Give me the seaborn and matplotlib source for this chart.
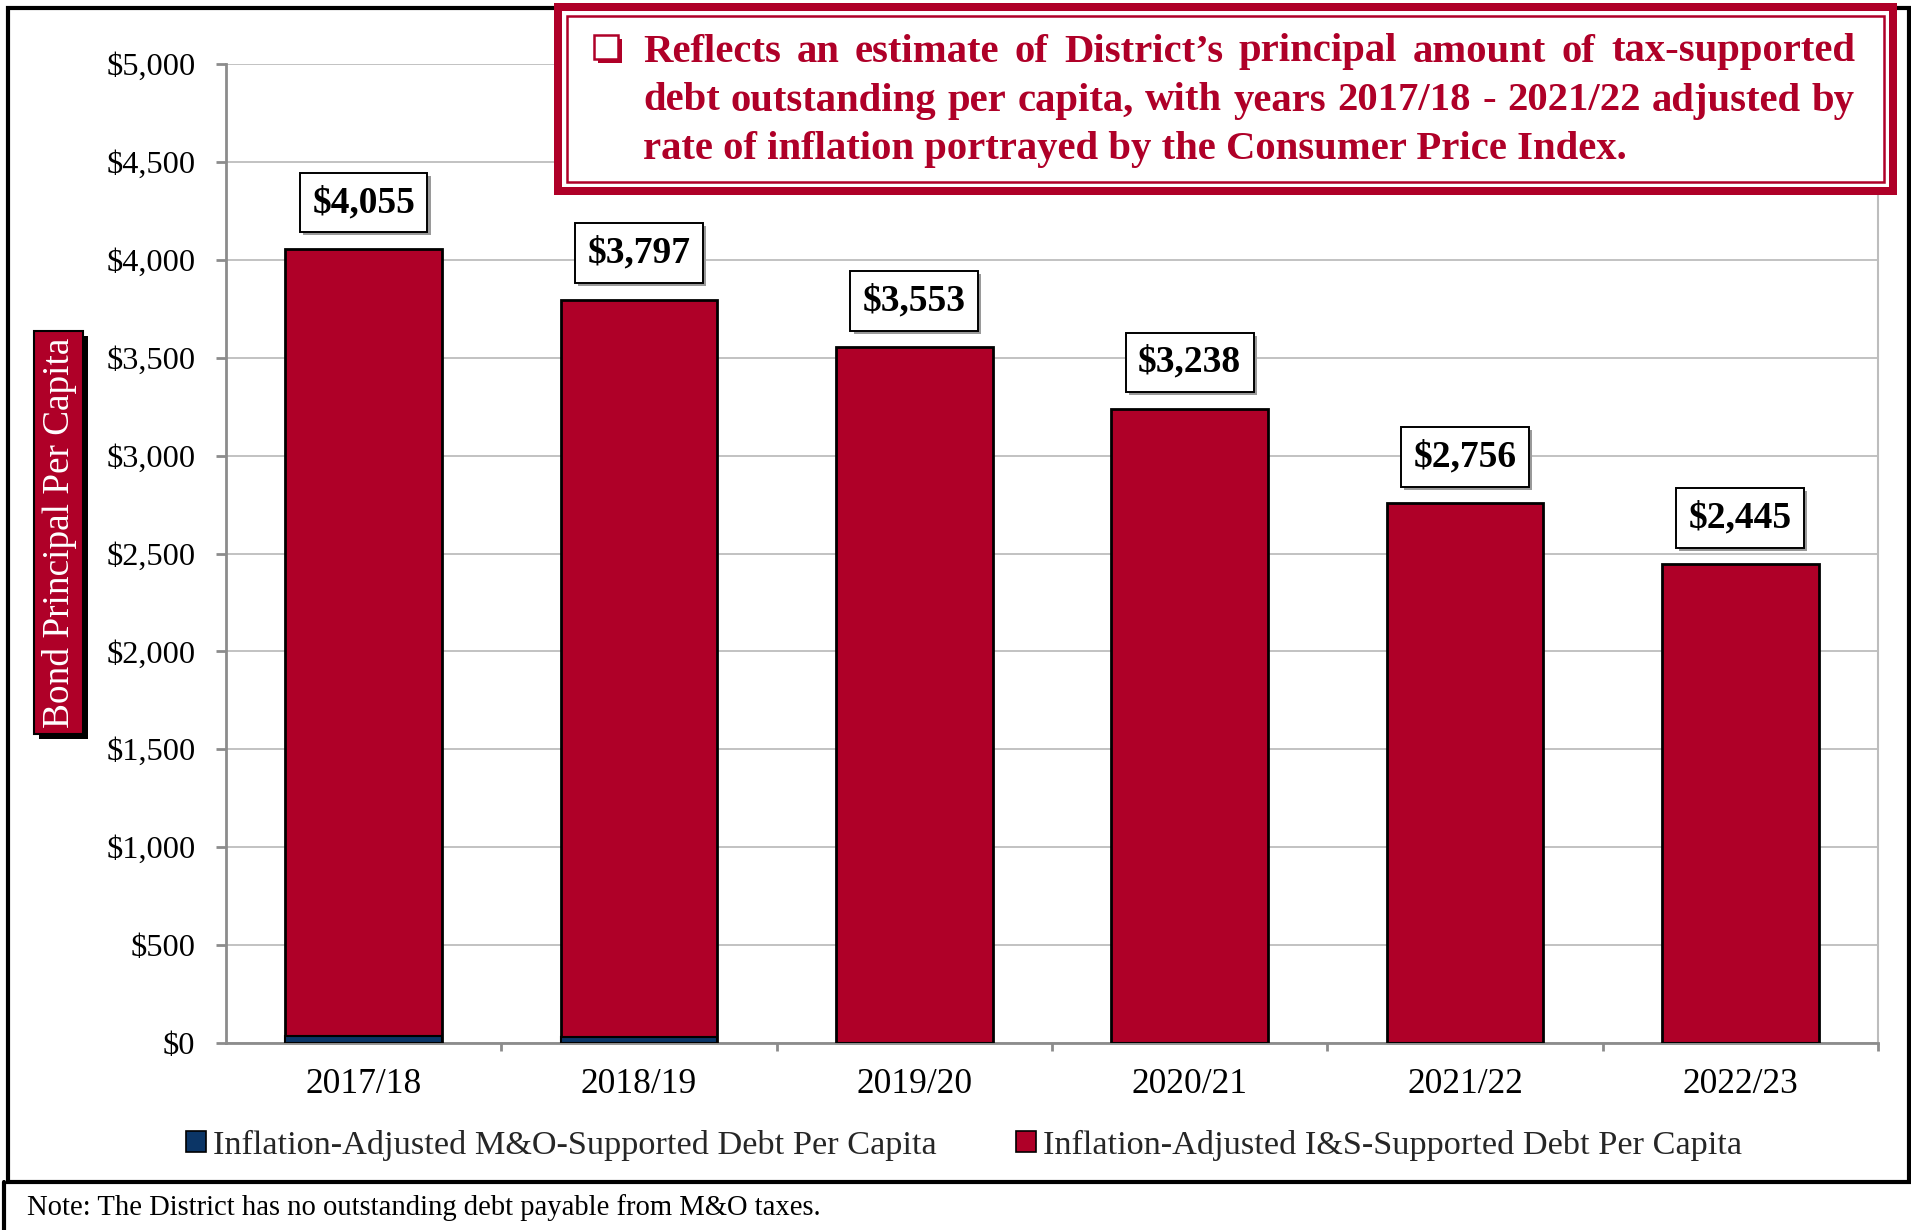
import matplotlib
matplotlib.use('Agg')
import matplotlib.pyplot as plt
import seaborn as sns
import pandas as pd
from matplotlib.patches import Rectangle, Patch
from matplotlib.lines import Line2D
from matplotlib.ticker import FuncFormatter

# ---------------- data ----------------
years = ['2017/18', '2018/19', '2019/20', '2020/21', '2021/22', '2022/23']
mo_debt = [35, 30, 0, 0, 0, 0]
is_debt = [4020, 3767, 3553, 3238, 2756, 2445]
y_ticks = [0, 500, 1000, 1500, 2000, 2500, 3000, 3500, 4000, 4500, 5000]

title_lines = [
    "Reflects an estimate of District\u2019s principal amount of tax-supported",
    "debt outstanding per capita, with years 2017/18 - 2021/22 adjusted by",
    "rate of inflation portrayed by the Consumer Price Index.",
]
legend_labels = ["Inflation-Adjusted M&O-Supported Debt Per Capita",
                 "Inflation-Adjusted I&S-Supported Debt Per Capita"]
y_label = "Bond Principal Per Capita"
note_text = "Note: The District has no outstanding debt payable from M&O taxes."

CRIMSON = '#AF0028'
NAVY = '#0B3566'
GRID = '#BDBDBD'
AXIS = '#8C8C8C'

sns.set_theme(style='white')
plt.rcParams['font.family'] = ['Liberation Serif', 'DejaVu Serif']

W, H = 1911, 1230
fig = plt.figure(figsize=(W / 100, H / 100), dpi=100)
fig.patch.set_facecolor('white')


def fx(px):
    return px / W


def fy(py):
    return 1 - py / H


# ---------------- axes ----------------
ax_l, ax_r, ax_t, ax_b = 226, 1878, 64, 1043
ax = fig.add_axes([fx(ax_l), fy(ax_b), (ax_r - ax_l) / W, (ax_b - ax_t) / H])

df = pd.DataFrame({'year': years, 'mo': mo_debt, 'is': is_debt})
df['total'] = df['mo'] + df['is']

sns.barplot(data=df, x='year', y='total', color=CRIMSON, width=0.57,
            edgecolor='black', linewidth=2, saturation=1, ax=ax, zorder=3)
sns.barplot(data=df, x='year', y='mo', color=NAVY, width=0.57,
            edgecolor='black', linewidth=1.5, saturation=1, ax=ax, zorder=4)

ax.set_xlim(-0.5, len(years) - 0.5)
ax.set_ylim(0, 5000)
ax.set_yticks(y_ticks)
ax.yaxis.set_major_formatter(FuncFormatter(lambda v, p: f"${v:,.0f}"))
ax.set_xlabel('')
ax.set_ylabel('')
ax.set_axisbelow(True)
ax.grid(axis='y', color=GRID, linewidth=1.3, zorder=0)
ax.grid(axis='x', visible=False)

for side in ['left', 'bottom']:
    ax.spines[side].set_color(AXIS)
    ax.spines[side].set_linewidth(2)
ax.spines['right'].set_color(GRID)
ax.spines['right'].set_linewidth(1.5)
ax.spines['top'].set_visible(False)

ax.tick_params(axis='y', which='major', length=7, width=2, color=AXIS,
               direction='out', left=True, pad=15, labelsize=23.3, labelcolor='black')
ax.tick_params(axis='x', which='major', length=0, pad=18, labelsize=25.5,
               labelcolor='black')
ax.set_xticks([i + 0.5 for i in range(len(years))], minor=True)
ax.tick_params(axis='x', which='minor', length=6, width=2, color=AXIS,
               direction='out', bottom=True)

# value labels
for i, row in df.iterrows():
    txt = f"${row['total']:,.0f}"
    ax.annotate(txt, (i, row['total']), xytext=(2.2, 31.3), textcoords='offset points',
                ha='center', va='center', fontsize=27, fontweight='bold',
                color=(0, 0, 0, 0), zorder=5,
                bbox=dict(boxstyle='square,pad=0.33', fc='#9a9a9a', ec='none'))
    ax.annotate(txt, (i, row['total']), xytext=(0, 33.5), textcoords='offset points',
                ha='center', va='center', fontsize=27, fontweight='bold',
                color='black', zorder=6,
                bbox=dict(boxstyle='square,pad=0.33', fc='white', ec='black', lw=1.4))

# ---------------- outer frame ----------------
fig.patches.append(Rectangle((fx(8), fy(1182)), (1909 - 8) / W, (1182 - 8) / H,
                             transform=fig.transFigure, fill=False, ec='black',
                             lw=3, zorder=0.5))
fig.lines.append(Line2D([fx(4), fx(4)], [fy(1182), fy(1230)],
                        transform=fig.transFigure, color='black', lw=3))

# ---------------- y label box ----------------
bx0, bx1, by0, by1 = 34, 83, 331, 734
fig.patches.append(Rectangle((fx(bx0 + 5), fy(by1 + 5)), (bx1 - bx0) / W, (by1 - by0) / H,
                             transform=fig.transFigure, fc='black', ec='none', zorder=2))
fig.patches.append(Rectangle((fx(bx0), fy(by1)), (bx1 - bx0) / W, (by1 - by0) / H,
                             transform=fig.transFigure, fc=CRIMSON, ec='black', lw=1.5,
                             zorder=2.1))
fig.text(fx((bx0 + bx1) / 2 + 1), fy((by0 + by1) / 2), y_label, rotation=90,
         ha='center', va='center', color='white', fontsize=26.8, zorder=3)

# ---------------- title box ----------------
tx0, tx1, ty0, ty1 = 554, 1897, 3, 195
fig.patches.append(Rectangle((fx(tx0), fy(ty1)), (tx1 - tx0) / W, (ty1 - ty0) / H,
                             transform=fig.transFigure, fc=CRIMSON, ec='none', zorder=2))
fig.patches.append(Rectangle((fx(tx0 + 8), fy(ty1 - 8)), (tx1 - tx0 - 16) / W,
                             (ty1 - ty0 - 16) / H, transform=fig.transFigure,
                             fc='white', ec='none', zorder=2.1))
fig.patches.append(Rectangle((fx(tx0 + 13), fy(ty1 - 13)), (tx1 - tx0 - 26) / W,
                             (ty1 - ty0 - 26) / H, transform=fig.transFigure,
                             fill=False, ec=CRIMSON, lw=1.8, zorder=2.2))
# check box icon
fig.patches.append(Rectangle((fx(598), fy(63)), 24 / W, 24 / H, transform=fig.transFigure,
                             fc=CRIMSON, ec='none', zorder=2.3))
fig.patches.append(Rectangle((fx(594), fy(59)), 24 / W, 24 / H, transform=fig.transFigure,
                             fc='white', ec=CRIMSON, lw=1.8, zorder=2.4))

renderer = fig.canvas.get_renderer()
line_left, line_right = 643, 1855
line_y = [52, 101, 150]
TFS = 29.3
for li, line in enumerate(title_lines):
    words = line.split(' ')
    if li < len(title_lines) - 1:
        objs = [fig.text(0, fy(line_y[li]), w, ha='left', va='center', fontsize=TFS,
                         fontweight='bold', color=CRIMSON, zorder=3) for w in words]
        widths = [o.get_window_extent(renderer).width for o in objs]
        gap = (line_right - line_left - sum(widths)) / (len(words) - 1)
        x = line_left
        for o, wdt in zip(objs, widths):
            o.set_x(fx(x))
            x += wdt + gap
    else:
        fig.text(fx(line_left), fy(line_y[li]), line, ha='left', va='center',
                 fontsize=TFS, fontweight='bold', color=CRIMSON, zorder=3)

# ---------------- legend ----------------
handles = [Patch(facecolor=NAVY, edgecolor='black', lw=1.2),
           Patch(facecolor=CRIMSON, edgecolor='black', lw=1.2)]
fig.legend(handles, legend_labels, loc='center', bbox_to_anchor=(fx(964), fy(1145)),
           ncol=2, frameon=False, fontsize=24.7, handlelength=0.6, handleheight=0.6,
           handletextpad=0.2, columnspacing=2.3)

# ---------------- note ----------------
fig.text(fx(27), fy(1208), note_text, ha='left', va='center', fontsize=20.6, color='black')

fig.savefig('out.png', dpi=100, facecolor='white')
